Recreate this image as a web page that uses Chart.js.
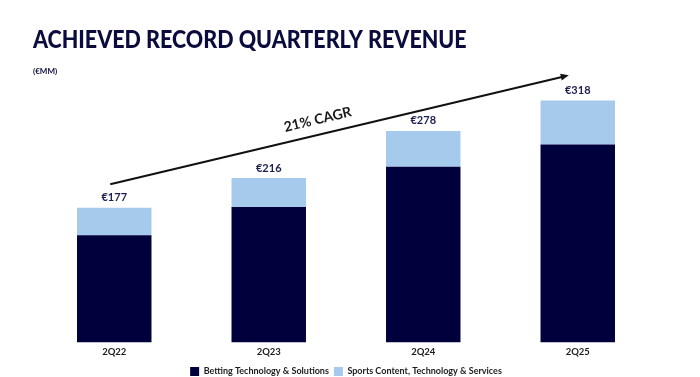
<!DOCTYPE html>
<html lang="en">
<head>
    <meta charset="UTF-8">
    <title>Achieved Record Quarterly Revenue</title>
    <script src="https://cdn.jsdelivr.net/npm/chart.js"></script>
    <style>
        html, body { margin: 0; padding: 0; background: #fff; }
        #wrap { width: 700px; height: 377px; position: relative; }
    </style>
</head>
<body>
    <div id="wrap">
        <canvas id="revenueChart" width="700" height="377"></canvas>
    </div>

    <script>
        // Quarterly revenue (EUR MM)
        var quarters = ['2Q22', '2Q23', '2Q24', '2Q25'];
        var bettingTech = [141, 178, 231, 260];
        var sportsContent = [36, 38, 47, 58];
        var totals = [177, 216, 278, 318];
        var seriesNames = ['Betting Technology & Solutions', 'Sports Content, Technology & Services'];
        var cagrText = '21% CAGR';

        var NAVY = '#00003c';
        var LIGHT = '#a6caec';
        var TEXT = '#1c1c1c';

        // titles, value labels and the CAGR arrow
        var extrasPlugin = {
            id: 'extras',
            afterDraw: function (chart) {
                var ctx = chart.ctx;
                var x = chart.scales.x, y = chart.scales.y;
                ctx.save();

                ctx.fillStyle = '#0b0b3d';
                ctx.textBaseline = 'middle';
                ctx.textAlign = 'left';
                // the original face is narrower than Lato, squeeze it a bit
                ctx.save();
                ctx.translate(33, 40);
                ctx.scale(0.895, 1);
                ctx.font = '900 24px Lato';
                ctx.fillText('ACHIEVED RECORD QUARTERLY REVENUE', 0, 0);
                ctx.restore();
                ctx.font = 'bold 8px Lato';
                ctx.fillText('(€MM)', 33, 71);

                // totals above bars
                var top = chart.getDatasetMeta(1);
                ctx.font = 'bold 11px Lato';
                ctx.textAlign = 'center';
                ctx.fillStyle = '#1b1f50';
                top.data.forEach(function (bar, i) {
                    ctx.fillText('€' + totals[i], bar.x, bar.y - 10);
                });

                // CAGR arrow
                var x0 = x.getPixelForValue(0) - 4, y0 = y.getPixelForValue(208);
                var x1 = x.getPixelForValue(3) - 9, y1 = y.getPixelForValue(351);
                var ang = Math.atan2(y1 - y0, x1 - x0);
                ctx.strokeStyle = '#111';
                ctx.fillStyle = '#111';
                ctx.lineWidth = 2;
                ctx.beginPath();
                ctx.moveTo(x0, y0);
                ctx.lineTo(x1 - 6 * Math.cos(ang), y1 - 6 * Math.sin(ang));
                ctx.stroke();
                ctx.beginPath();
                ctx.moveTo(x1, y1);
                ctx.lineTo(x1 - 8 * Math.cos(ang) + 3.5 * Math.sin(ang), y1 - 8 * Math.sin(ang) - 3.5 * Math.cos(ang));
                ctx.lineTo(x1 - 8 * Math.cos(ang) - 3.5 * Math.sin(ang), y1 - 8 * Math.sin(ang) + 3.5 * Math.cos(ang));
                ctx.closePath();
                ctx.fill();

                // label along the arrow
                var t = 0.46;
                var mx = x0 + (x1 - x0) * t, my = y0 + (y1 - y0) * t;
                ctx.translate(mx + 15 * Math.sin(ang), my - 15 * Math.cos(ang));
                ctx.rotate(ang);
                ctx.font = 'bold 14px Lato';
                ctx.fillStyle = '#1a1a1a';
                ctx.textAlign = 'center';
                ctx.fillText(cagrText, 0, 0);

                ctx.restore();
            }
        };

        var ctx = document.getElementById('revenueChart').getContext('2d');
        var revenueChart = new Chart(ctx, {
            type: 'bar',
            data: {
                labels: quarters,
                datasets: [{
                    label: seriesNames[0],
                    data: bettingTech,
                    backgroundColor: NAVY,
                    borderWidth: 0,
                    barPercentage: 1,
                    categoryPercentage: 0.482
                }, {
                    label: seriesNames[1],
                    data: sportsContent,
                    backgroundColor: LIGHT,
                    borderWidth: 0,
                    barPercentage: 1,
                    categoryPercentage: 0.482
                }]
            },
            options: {
                responsive: false,
                animation: false,
                layout: {
                    padding: { top: 38, left: 37, right: 45, bottom: -9 }
                },
                scales: {
                    x: {
                        stacked: true,
                        grid: { display: false, drawTicks: false, tickLength: 0 },
                        border: { display: false },
                        ticks: {
                            color: TEXT,
                            padding: 4,
                            font: { family: 'Lato', size: 9.5, weight: 'bold' }
                        }
                    },
                    y: {
                        stacked: true,
                        display: false,
                        min: 0,
                        max: 400
                    }
                },
                plugins: {
                    legend: {
                        position: 'bottom',
                        labels: {
                            color: TEXT,
                            boxWidth: 9,
                            boxHeight: 9,
                            padding: 5,
                            font: { family: 'Lato', size: 9, weight: 'bold' }
                        }
                    },
                    tooltip: { enabled: false }
                }
            },
            plugins: [extrasPlugin]
        });
    </script>
</body>
</html>
